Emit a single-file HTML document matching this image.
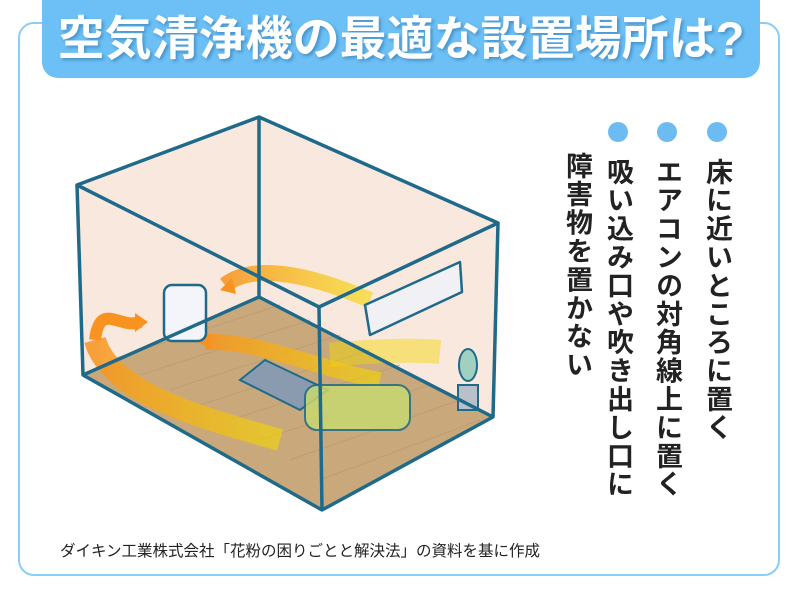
<!DOCTYPE html>
<html><head><meta charset="utf-8"><style>
body{margin:0;width:800px;height:600px;background:#fff;position:relative;overflow:hidden;font-family:"Liberation Sans","Noto Sans CJK JP",sans-serif}
.panel{position:absolute;left:18px;top:22px;width:762px;height:554px;border:2px solid #8ccdf5;border-radius:16px;box-sizing:border-box}
.title{position:absolute;left:42px;top:0;width:718px;height:78px;background:#6cc0f5;border-radius:0 0 16px 16px;color:#fff;font-weight:bold;font-size:47px;text-align:center;line-height:78px;text-shadow:2px 2px 3px rgba(0,60,120,.35)}
.col{position:absolute;writing-mode:vertical-rl;font-size:27px;font-weight:bold;color:#222;line-height:1;letter-spacing:1.4px}
.dot{position:absolute;width:20px;height:20px;border-radius:50%;background:#6cbcf3}
.cap{position:absolute;left:60px;top:539px;font-size:15.5px;color:#222}
</style></head><body>
<div class="panel"></div>
<div class="title">空気清浄機の最適な設置場所は?</div>
<svg width="800" height="600" style="position:absolute;left:0;top:0">
<defs>
<linearGradient id="g1" x1="0" x2="1"><stop offset="0" stop-color="#f7931e"/><stop offset="1" stop-color="#f5d800" stop-opacity=".7"/></linearGradient>
</defs>
<polygon points="77,185 259,117 498,223 319,307" fill="#f9e8de"/>
<polygon points="77,185 259,117 259,297 83,375" fill="#f9e8de"/>
<polygon points="259,117 498,223 493,417 259,297" fill="#f9e8de"/>
<polygon points="259,297 493,417 322,510 83,375" fill="#c9a97b"/>
<g stroke="#b8966a" stroke-width="1" opacity=".6">
<line x1="110" y1="360" x2="280" y2="305"/><line x1="140" y1="375" x2="310" y2="320"/><line x1="170" y1="390" x2="340" y2="335"/><line x1="200" y1="405" x2="370" y2="350"/><line x1="230" y1="420" x2="400" y2="365"/><line x1="260" y1="440" x2="430" y2="385"/><line x1="290" y1="460" x2="460" y2="400"/><line x1="320" y1="480" x2="480" y2="420"/>
</g>
<path d="M95,340 C100,300 120,330 140,322" stroke="#f7931e" stroke-width="12" fill="none"/>
<path d="M95,340 C110,395 210,420 280,440" stroke="url(#g1)" stroke-width="22" fill="none" opacity=".85"/>
<polygon points="135,313 148,322 135,332" fill="#f7931e"/>
<path d="M205,342 C260,340 320,370 380,380" stroke="url(#g1)" stroke-width="16" fill="none" opacity=".85"/>
<polygon points="198,342 212,334 212,350" fill="#f7931e"/>
<path d="M225,285 C250,265 300,270 370,300" stroke="url(#g1)" stroke-width="16" fill="none" opacity=".85"/>
<polygon points="220,290 232,278 236,294" fill="#f7931e"/>
<path d="M330,355 C380,350 420,350 440,352" stroke="#f5d800" stroke-width="24" fill="none" opacity=".45"/>
<rect x="164" y="285" width="42" height="56" rx="8" fill="#f4f5fa" stroke="#1f6a8a" stroke-width="2.5"/>
<polygon points="365,305 460,262 462,292 370,335" fill="#f0f0f5" stroke="#1f6a8a" stroke-width="2.5" stroke-linejoin="round"/>
<path d="M240,380 L265,360 L328,390 L300,410 Z" fill="#8a9bb0" stroke="#1f6a8a" stroke-width="2"/>
<rect x="305" y="385" width="105" height="45" rx="12" fill="#c8d870" opacity=".85" stroke="#1f6a8a" stroke-width="2"/>
<rect x="458" y="385" width="20" height="25" fill="#b8c0c8" stroke="#1f6a8a" stroke-width="2"/>
<ellipse cx="468" cy="365" rx="9" ry="16" fill="#9fd0c0" stroke="#1f6a8a" stroke-width="2"/>
<g fill="none" stroke="#1f6a8a" stroke-width="3.5" stroke-linejoin="round">
<polygon points="77,185 259,117 498,223 319,307"/>
<line x1="259" y1="117" x2="259" y2="297"/>
<line x1="259" y1="297" x2="83" y2="375"/>
<line x1="259" y1="297" x2="493" y2="417"/>
<polyline points="77,185 83,375 322,510 493,417 498,223"/>
<line x1="319" y1="307" x2="322" y2="510"/>
</g>
</svg>
<div class="dot" style="left:707px;top:122px"></div>
<div class="dot" style="left:657px;top:122px"></div>
<div class="dot" style="left:608px;top:122px"></div>
<div class="col" style="left:703px;top:158px">床に近いところに置く</div>
<div class="col" style="left:653px;top:158px">エアコンの対角線上に置く</div>
<div class="col" style="left:604px;top:158px">吸い込み口や吹き出し口に</div>
<div class="col" style="left:563px;top:152px">障害物を置かない</div>
<div class="cap">ダイキン工業株式会社「花粉の困りごとと解決法」の資料を基に作成</div>
</body></html>
